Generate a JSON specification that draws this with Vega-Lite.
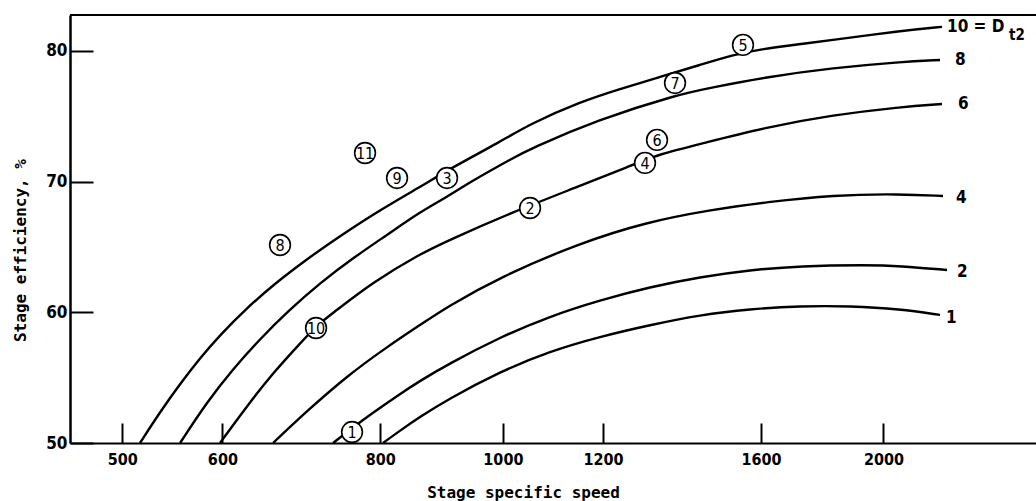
{
  "$schema": "https://vega.github.io/schema/vega-lite/v6.json",
  "width": 966,
  "height": 428,
  "autosize": {"type": "none"},
  "padding": {"left": 70, "top": 15, "right": 0, "bottom": 58},
  "background": "white",
  "config": {
    "view": {"stroke": null},
    "axis": {
      "grid": false,
      "domainColor": "black",
      "tickColor": "black",
      "labelColor": "black",
      "titleColor": "black",
      "labelFont": "DejaVu Sans Condensed, DejaVu Sans",
      "labelFontWeight": "bold",
      "labelFontSize": 16,
      "titleFont": "DejaVu Sans Mono",
      "titleFontWeight": "bold",
      "titleFontSize": 16,
      "labelFlush": false,
      "labelOverlap": false
    }
  },
  "datasets": {
    "curves": [
      {"D": 10, "speed": 516.4, "eff": 50}, {"D": 10, "speed": 535.6, "eff": 52.37}, {"D": 10, "speed": 555.5, "eff": 54.52}, {"D": 10, "speed": 576.1, "eff": 56.5}, {"D": 10, "speed": 597.4, "eff": 58.26}, {"D": 10, "speed": 627.5, "eff": 60.33}, {"D": 10, "speed": 658.0, "eff": 62.09}, {"D": 10, "speed": 700.0, "eff": 64.08}, {"D": 10, "speed": 743.4, "eff": 65.84}, {"D": 10, "speed": 799.5, "eff": 67.83}, {"D": 10, "speed": 859.9, "eff": 69.59}, {"D": 10, "speed": 913.2, "eff": 71.12}, {"D": 10, "speed": 994.8, "eff": 73.04}, {"D": 10, "speed": 1050.7, "eff": 74.41}, {"D": 10, "speed": 1150.8, "eff": 76.1}, {"D": 10, "speed": 1237.8, "eff": 77.09}, {"D": 10, "speed": 1331.3, "eff": 78.01}, {"D": 10, "speed": 1431.9, "eff": 78.93}, {"D": 10, "speed": 1520.6, "eff": 79.7}, {"D": 10, "speed": 1597.2, "eff": 80.12}, {"D": 10, "speed": 1717.9, "eff": 80.53}, {"D": 10, "speed": 1824.4, "eff": 80.84}, {"D": 10, "speed": 2061.1, "eff": 81.53}, {"D": 10, "speed": 2224.9, "eff": 81.84},
      {"D": 8, "speed": 555.5, "eff": 50}, {"D": 8, "speed": 583.5, "eff": 53.14}, {"D": 8, "speed": 611.7, "eff": 55.66}, {"D": 8, "speed": 642.6, "eff": 57.96}, {"D": 8, "speed": 675.0, "eff": 60.03}, {"D": 8, "speed": 716.8, "eff": 62.24}, {"D": 8, "speed": 761.2, "eff": 64.16}, {"D": 8, "speed": 809.8, "eff": 65.92}, {"D": 8, "speed": 859.9, "eff": 67.68}, {"D": 8, "speed": 903.3, "eff": 68.83}, {"D": 8, "speed": 941.9, "eff": 69.97}, {"D": 8, "speed": 1018.6, "eff": 71.81}, {"D": 8, "speed": 1050.7, "eff": 72.5}, {"D": 8, "speed": 1187.0, "eff": 74.72}, {"D": 8, "speed": 1380.7, "eff": 76.71}, {"D": 8, "speed": 1458.2, "eff": 77.17}, {"D": 8, "speed": 1617.7, "eff": 78.01}, {"D": 8, "speed": 1824.4, "eff": 78.7}, {"D": 8, "speed": 2061.1, "eff": 79.16}, {"D": 8, "speed": 2216.9, "eff": 79.31},
      {"D": 6, "speed": 597.4, "eff": 50}, {"D": 6, "speed": 627.5, "eff": 52.83}, {"D": 6, "speed": 658.0, "eff": 55.36}, {"D": 6, "speed": 691.1, "eff": 57.61}, {"D": 6, "speed": 712.9, "eff": 59.03}, {"D": 6, "speed": 734.0, "eff": 59.95}, {"D": 6, "speed": 789.4, "eff": 62.32}, {"D": 6, "speed": 859.9, "eff": 64.46}, {"D": 6, "speed": 903.3, "eff": 65.46}, {"D": 6, "speed": 1018.6, "eff": 67.68}, {"D": 6, "speed": 1150.8, "eff": 69.67}, {"D": 6, "speed": 1260.5, "eff": 71.2}, {"D": 6, "speed": 1331.3, "eff": 72.12}, {"D": 6, "speed": 1431.9, "eff": 72.88}, {"D": 6, "speed": 1617.7, "eff": 74.18}, {"D": 6, "speed": 1824.4, "eff": 75.1}, {"D": 6, "speed": 2061.1, "eff": 75.71}, {"D": 6, "speed": 2224.9, "eff": 75.94},
      {"D": 4, "speed": 658.0, "eff": 50}, {"D": 4, "speed": 700.0, "eff": 52.45}, {"D": 4, "speed": 752.9, "eff": 55.13}, {"D": 4, "speed": 809.8, "eff": 57.35}, {"D": 4, "speed": 859.9, "eff": 59.03}, {"D": 4, "speed": 903.3, "eff": 60.41}, {"D": 4, "speed": 994.8, "eff": 62.7}, {"D": 4, "speed": 1150.8, "eff": 65.31}, {"D": 4, "speed": 1300.2, "eff": 66.91}, {"D": 4, "speed": 1458.2, "eff": 67.83}, {"D": 4, "speed": 1617.7, "eff": 68.44}, {"D": 4, "speed": 1824.4, "eff": 68.98}, {"D": 4, "speed": 2061.1, "eff": 69.06}, {"D": 4, "speed": 2229.0, "eff": 68.9},
      {"D": 2, "speed": 734.0, "eff": 50}, {"D": 2, "speed": 759.8, "eff": 51.13}, {"D": 2, "speed": 785.1, "eff": 52.16}, {"D": 2, "speed": 829.2, "eff": 53.76}, {"D": 2, "speed": 859.9, "eff": 54.75}, {"D": 2, "speed": 903.3, "eff": 55.99}, {"D": 2, "speed": 994.8, "eff": 58.1}, {"D": 2, "speed": 1089.6, "eff": 59.7}, {"D": 2, "speed": 1193.5, "eff": 60.93}, {"D": 2, "speed": 1307.3, "eff": 61.94}, {"D": 2, "speed": 1431.9, "eff": 62.7}, {"D": 2, "speed": 1568.4, "eff": 63.24}, {"D": 2, "speed": 1717.9, "eff": 63.55}, {"D": 2, "speed": 1940.9, "eff": 63.62}, {"D": 2, "speed": 2061.1, "eff": 63.55}, {"D": 2, "speed": 2245.3, "eff": 63.24},
      {"D": 1, "speed": 803.9, "eff": 50}, {"D": 1, "speed": 829.2, "eff": 50.95}, {"D": 1, "speed": 859.9, "eff": 52.0}, {"D": 1, "speed": 903.3, "eff": 53.3}, {"D": 1, "speed": 994.8, "eff": 55.46}, {"D": 1, "speed": 1089.6, "eff": 57.03}, {"D": 1, "speed": 1193.5, "eff": 58.14}, {"D": 1, "speed": 1307.3, "eff": 59.03}, {"D": 1, "speed": 1431.9, "eff": 59.8}, {"D": 1, "speed": 1568.4, "eff": 60.25}, {"D": 1, "speed": 1717.9, "eff": 60.48}, {"D": 1, "speed": 1881.7, "eff": 60.48}, {"D": 1, "speed": 2061.1, "eff": 60.25}, {"D": 1, "speed": 2216.9, "eff": 59.8}
    ],
    "points": [
      {"id": "1", "speed": 759.8, "eff": 50.84},
      {"id": "2", "speed": 1050.7, "eff": 67.98},
      {"id": "3", "speed": 903.3, "eff": 70.28},
      {"id": "4", "speed": 1295.4, "eff": 71.43},
      {"id": "5", "speed": 1548.5, "eff": 80.46},
      {"id": "6", "speed": 1324.1, "eff": 73.19},
      {"id": "7", "speed": 1368.2, "eff": 77.55},
      {"id": "8", "speed": 666.4, "eff": 65.15},
      {"id": "9", "speed": 824.7, "eff": 70.28},
      {"id": "10", "speed": 711.6, "eff": 58.8},
      {"id": "11", "speed": 778.0, "eff": 72.19}
    ],
    "labels": [
      {"text": "10 = D", "speed": 2245.3, "eff": 81.87},
      {"text": "8", "speed": 2278.0, "eff": 79.31},
      {"text": "6", "speed": 2290.7, "eff": 75.94},
      {"text": "4", "speed": 2282.4, "eff": 68.71},
      {"text": "2", "speed": 2286.5, "eff": 63.09},
      {"text": "1", "speed": 2241.2, "eff": 59.57}
    ],
    "subscript": [
      {"text": "t2", "speed": 2513.6, "eff": 81.22}
    ],
    "frame": [
      {"eff": 82.75}
    ]
  },
  "layer": [
    {
      "data": {"name": "curves"},
      "mark": {"type": "line", "interpolate": "basis", "color": "black", "strokeWidth": 2.4},
      "encoding": {
        "x": {
          "field": "speed", "type": "quantitative",
          "scale": {"type": "log", "domain": [454.6, 2640.3], "nice": false},
          "axis": {
            "values": [500, 600, 800, 1000, 1200, 1600, 2000],
            "format": "d",
            "tickSize": -20, "tickWidth": 2,
            "domainWidth": 2,
            "labelPadding": 28,
            "title": "Stage specific speed",
            "titleX": 453, "titleY": 54, "titleBaseline": "alphabetic", "titleAlign": "center"
          }
        },
        "y": {
          "field": "eff", "type": "quantitative",
          "scale": {"domain": [50, 82.75], "nice": false, "zero": false},
          "axis": {
            "values": [50, 60, 70, 80],
            "tickSize": -23, "tickWidth": 2,
            "domainWidth": 2.5,
            "labelPadding": 26,
            "labelFontSize": 17,
            "title": "Stage efficiency, %",
            "titleX": -45, "titleY": 235, "titleAngle": -90, "titleBaseline": "alphabetic", "titleAlign": "center"
          }
        },
        "detail": {"field": "D", "type": "nominal"},
        "order": {"field": "speed", "type": "quantitative"}
      }
    },
    {
      "data": {"name": "frame"},
      "mark": {"type": "rule", "color": "black", "strokeWidth": 2},
      "encoding": {"y": {"field": "eff", "type": "quantitative"}}
    },
    {
      "data": {"name": "points"},
      "mark": {"type": "point", "shape": "circle", "filled": false, "fill": "white", "fillOpacity": 1, "stroke": "black", "strokeWidth": 1.6, "size": 430, "opacity": 1},
      "encoding": {
        "x": {"field": "speed", "type": "quantitative"},
        "y": {"field": "eff", "type": "quantitative"}
      }
    },
    {
      "data": {"name": "points"},
      "mark": {"type": "text", "font": "DejaVu Sans Condensed, DejaVu Sans", "fontSize": 16, "align": "center", "baseline": "middle", "dy": 1, "color": "black"},
      "encoding": {
        "x": {"field": "speed", "type": "quantitative"},
        "y": {"field": "eff", "type": "quantitative"},
        "text": {"field": "id"}
      }
    },
    {
      "data": {"name": "labels"},
      "mark": {"type": "text", "font": "DejaVu Sans Condensed, DejaVu Sans", "fontWeight": "bold", "fontSize": 17, "align": "left", "baseline": "middle", "color": "black", "clip": false},
      "encoding": {
        "x": {"field": "speed", "type": "quantitative"},
        "y": {"field": "eff", "type": "quantitative"},
        "text": {"field": "text"}
      }
    },
    {
      "data": {"name": "subscript"},
      "mark": {"type": "text", "font": "DejaVu Sans Condensed, DejaVu Sans", "fontWeight": "bold", "fontSize": 15, "align": "left", "baseline": "middle", "color": "black", "clip": false},
      "encoding": {
        "x": {"field": "speed", "type": "quantitative"},
        "y": {"field": "eff", "type": "quantitative"},
        "text": {"field": "text"}
      }
    }
  ]
}
